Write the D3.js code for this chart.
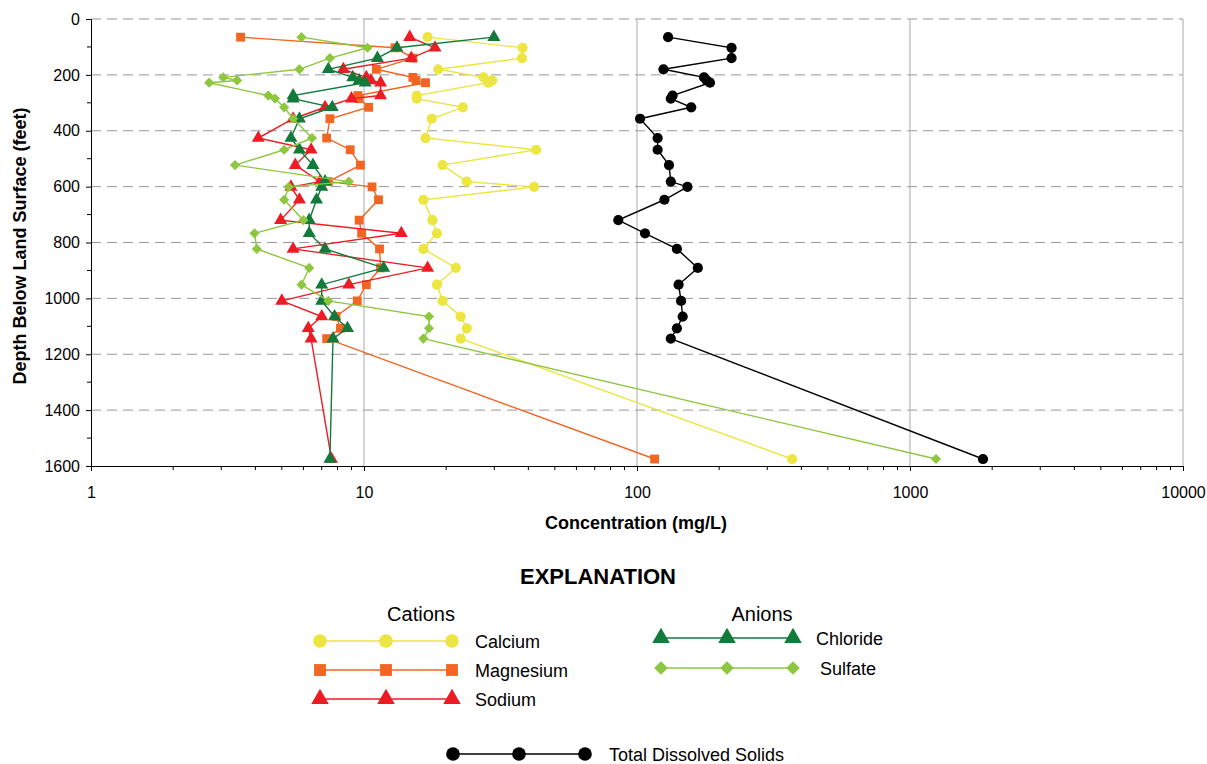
<!DOCTYPE html>
<html>
<head>
<meta charset="utf-8">
<script src="https://cdn.jsdelivr.net/npm/d3@7"></script>
<style>
  body { margin: 0; background: #fff; }
  svg { font-family: "Liberation Sans", Arial, sans-serif; }
</style>
</head>
<body>
<svg id="chart" width="1207" height="764"></svg>
<script>
// sample depths (feet below land surface)
const depths = [65, 103, 140, 180, 209, 220, 228, 274, 285, 316, 357, 426, 468, 523,
  582, 601, 647, 720, 767, 823, 891, 951, 1009, 1065, 1107, 1144, 1575];

// concentrations (mg/L), one per depth
const calcium = [17.1, 38.1, 37.9, 18.7, 27.4, 29.5, 28.5, 15.6, 15.6, 23, 17.7, 16.8, 42.7, 19.4,
  23.8, 42, 16.5, 17.8, 18.5, 16.5, 21.7, 18.5, 19.4, 22.6, 23.8, 22.6, 370];
const magnesium = [3.53, 13.0, 15.1, 11.1, 15.1, 15.5, 16.8, 9.5, 9.6, 10.4, 7.5, 7.3, 8.9, 9.7,
  7.4, 10.7, 11.3, 9.6, 9.8, 11.4, 11.5, 10.2, 9.45, 7.9, 8.2, 7.3, 116];
const sodium = [14.7, 18.2, 14.9, 8.4, 10.2, 10.6, 11.5, 11.5, 9.0, 7.2, 5.5, 4.1, 6.4, 5.6,
  6.9, 5.4, 5.8, 4.95, 13.7, 5.5, 17.1, 8.8, 5.0, 7.0, 6.25, 6.4, 7.6];
const chloride = [29.9, 13.2, 11.2, 7.4, 9.1, 9.6, 10.1, 5.5, 5.5, 7.65, 5.8, 5.4, 5.8, 6.5,
  7.2, 7.0, 6.7, 6.3, 6.3, 7.2, 11.8, 7.0, 7.0, 7.8, 8.7, 7.7, 7.5];
const sulfate = [5.9, 10.3, 7.5, 5.8, 3.05, 3.43, 2.71, 4.46, 4.72, 5.1, 5.5, 6.45, 5.1, 3.37,
  8.8, 5.3, 5.1, 6.0, 3.97, 4.05, 6.3, 5.9, 7.4, 17.3, 17.3, 16.5, 1245];
const tds = [130, 222, 222, 125, 176, 180, 185, 135, 133, 158, 102.6, 119, 119, 131,
  133, 153, 126, 85.4, 107, 140, 167, 142, 145, 147, 140, 133, 1851];

const xTicks = [1, 10, 100, 1000, 10000];
const yTicks = [0, 200, 400, 600, 800, 1000, 1200, 1400, 1600];

const series = [
  { name: "Calcium", values: calcium, color: "#ECE542", shape: "circle" },
  { name: "Magnesium", values: magnesium, color: "#F26522", shape: "square" },
  { name: "Sodium", values: sodium, color: "#ED1C24", shape: "triangle" },
  { name: "Chloride", values: chloride, color: "#127A3A", shape: "triangle" },
  { name: "Sulfate", values: sulfate, color: "#8DC63F", shape: "diamond" },
  { name: "Total Dissolved Solids", values: tds, color: "#000000", shape: "circle" }
];

const svg = d3.select("#chart");
const plotLeft = 91, plotRight = 1183, plotTop = 19, plotBottom = 466;

const x = d3.scaleLog().domain([1, 10000]).range([plotLeft, plotRight]);
const y = d3.scaleLinear().domain([0, 1600]).range([plotTop, plotBottom]);

function symbolPath(shape, scale) {
  scale = scale || 1;
  if (shape === "circle") return d3.symbol(d3.symbolCircle, 82 * scale)();
  if (shape === "square") return d3.symbol(d3.symbolSquare, 78 * scale)();
  if (shape === "triangle") return d3.symbol(d3.symbolTriangle, 74 * scale)();
  return d3.symbol(d3.symbolSquare, 52 * scale)();
}

// grid lines
const grid = svg.append("g");
grid.selectAll("line.h")
  .data(yTicks.slice(0, -1))
  .enter().append("line")
  .attr("x1", plotLeft).attr("x2", plotRight)
  .attr("y1", d => y(d)).attr("y2", d => y(d))
  .attr("stroke", "#999").attr("stroke-width", 1)
  .attr("stroke-dasharray", "10,6");
grid.selectAll("line.v")
  .data(xTicks.slice(1))
  .enter().append("line")
  .attr("x1", d => x(d)).attr("x2", d => x(d))
  .attr("y1", plotTop).attr("y2", plotBottom)
  .attr("stroke", "#aaa").attr("stroke-width", 1);

// axes
const minorX = [];
[1, 10, 100, 1000].forEach(d => { for (let k = 2; k <= 9; k++) minorX.push(d * k); });

const xAxis = svg.append("g").attr("transform", `translate(0,${plotBottom})`);
xAxis.call(d3.axisBottom(x).tickValues(xTicks).tickFormat(d3.format("d")).tickSize(5).tickPadding(16))
  .call(g => g.select(".domain").attr("stroke", "#000"))
  .call(g => g.selectAll("text").attr("font-size", 16).attr("fill", "#000"));
xAxis.selectAll("line.minor")
  .data(minorX).enter().append("line")
  .attr("x1", d => x(d)).attr("x2", d => x(d))
  .attr("y1", 0).attr("y2", 4).attr("stroke", "#000");

const yAxis = svg.append("g").attr("transform", `translate(${plotLeft},0)`);
yAxis.call(d3.axisLeft(y).tickValues(yTicks).tickFormat(d3.format("d")).tickSize(5).tickPadding(6))
  .call(g => g.select(".domain").attr("stroke", "#000"))
  .call(g => g.selectAll("text").attr("font-size", 16).attr("fill", "#000"));
yAxis.selectAll("line.minor")
  .data(d3.range(100, 1600, 200)).enter().append("line")
  .attr("x1", -4).attr("x2", 0)
  .attr("y1", d => y(d)).attr("y2", d => y(d)).attr("stroke", "#000");

// axis titles
svg.append("text")
  .attr("x", 636).attr("y", 529)
  .attr("text-anchor", "middle").attr("font-weight", "bold").attr("font-size", 18)
  .text("Concentration (mg/L)");
svg.append("text")
  .attr("transform", "translate(26,246) rotate(-90)")
  .attr("text-anchor", "middle").attr("font-weight", "bold").attr("font-size", 18)
  .text("Depth Below Land Surface (feet)");

// data series
const line = d3.line().x(d => x(d[0])).y(d => y(d[1]));
const plot = svg.append("g");
series.forEach(s => {
  const pts = s.values.map((v, i) => [v, depths[i]]);
  const g = plot.append("g");
  g.append("path").datum(pts)
    .attr("d", line).attr("fill", "none")
    .attr("stroke", s.color).attr("stroke-width", 1.4);
  g.selectAll("path.mark").data(pts).enter().append("path")
    .attr("d", symbolPath(s.shape))
    .attr("transform", d => `translate(${x(d[0])},${y(d[1])})` + (s.shape === "diamond" ? " rotate(45)" : ""))
    .attr("fill", s.color);
});

// legend
svg.append("text")
  .attr("x", 598).attr("y", 584)
  .attr("text-anchor", "middle").attr("font-weight", "bold").attr("font-size", 22)
  .text("EXPLANATION");
svg.append("text").attr("x", 421).attr("y", 621)
  .attr("text-anchor", "middle").attr("font-size", 20).text("Cations");
svg.append("text").attr("x", 762).attr("y", 621)
  .attr("text-anchor", "middle").attr("font-size", 20).text("Anions");

const legendItems = [
  { s: series[0], x0: 320, y0: 641, tx: 475 },
  { s: series[1], x0: 320, y0: 670, tx: 475 },
  { s: series[2], x0: 320, y0: 699, tx: 475 },
  { s: series[3], x0: 661, y0: 638, tx: 816 },
  { s: series[4], x0: 661, y0: 668, tx: 820 },
  { s: series[5], x0: 453, y0: 754, tx: 609 }
];
legendItems.forEach(it => {
  const g = svg.append("g");
  const w = 132;
  g.append("line")
    .attr("x1", it.x0).attr("x2", it.x0 + w)
    .attr("y1", it.y0).attr("y2", it.y0)
    .attr("stroke", it.s.color).attr("stroke-width", 1.6);
  [0, w / 2, w].forEach(dx => {
    g.append("path")
      .attr("d", symbolPath(it.s.shape, 1.8))
      .attr("transform", `translate(${it.x0 + dx},${it.y0})` + (it.s.shape === "diamond" ? " rotate(45)" : ""))
      .attr("fill", it.s.color);
  });
  g.append("text")
    .attr("x", it.tx).attr("y", it.y0 + 7)
    .attr("font-size", 18).text(it.s.name);
});
</script>
</body>
</html>
